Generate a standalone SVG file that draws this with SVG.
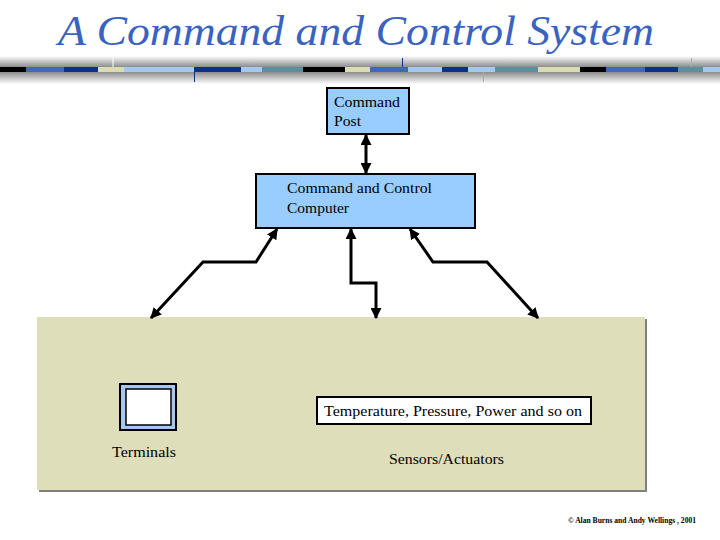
<svg xmlns="http://www.w3.org/2000/svg" width="720" height="540" viewBox="0 0 720 540">
<style>
.t{font-family:"Liberation Serif",Tinos,"Times New Roman",Times,"Nimbus Roman","Nimbus Roman No9 L",FreeSerif,"Noto Serif","DejaVu Serif",serif;font-size:15.5px;fill:#000}
.ttl{font-family:"Liberation Serif",Tinos,"Times New Roman",Times,"Nimbus Roman","Nimbus Roman No9 L",FreeSerif,"Noto Serif","DejaVu Serif",serif;font-style:italic;font-size:42px;fill:#3A62C0}
.ft{font-family:"Liberation Serif",Tinos,"Times New Roman",Times,"Nimbus Roman","Nimbus Roman No9 L",FreeSerif,"Noto Serif","DejaVu Serif",serif;font-size:9px;font-weight:bold;fill:#000}
.box{fill:#99CCFF;stroke:#000;stroke-width:2}
.conn{fill:none;stroke:#000;stroke-width:3;stroke-linejoin:miter}
</style>
<defs>
<linearGradient id="gTop" x1="0" y1="0" x2="0" y2="1">
<stop offset="0" stop-color="#fff"/><stop offset="1" stop-color="#8c8c8c"/>
</linearGradient>
<linearGradient id="gBot" x1="0" y1="0" x2="0" y2="1">
<stop offset="0" stop-color="#8c8c8c"/><stop offset="1" stop-color="#fff"/>
</linearGradient>
<marker id="ah" viewBox="0 0 10 10" refX="9" refY="5" markerWidth="11" markerHeight="11" markerUnits="userSpaceOnUse" orient="auto-start-reverse">
<path d="M0,0 L10,5 L0,10 z" fill="#000"/>
</marker>
</defs>
<rect width="720" height="540" fill="#fff"/>
<text class="ttl" x="58" y="45" textLength="596" lengthAdjust="spacingAndGlyphs">A Command and Control System</text>
<g id="band">
<rect x="0" y="56" width="720" height="11" fill="url(#gTop)"/>
<rect x="0" y="72" width="720" height="12" fill="url(#gBot)"/>
<rect x="0" y="67" width="26" height="5" fill="#000"/>
<rect x="26" y="67" width="38" height="5" fill="#3F67C0"/>
<rect x="64" y="67" width="34" height="5" fill="#0B2F8C"/>
<rect x="98" y="67" width="26" height="5" fill="#DCDCB4"/>
<rect x="124" y="67" width="70" height="5" fill="#A4C8F0"/>
<rect x="194" y="67" width="47" height="5" fill="#0B2F8C"/>
<rect x="241" y="67" width="21" height="5" fill="#A4C8F0"/>
<rect x="262" y="67" width="41" height="5" fill="#5A8FA0"/>
<rect x="303" y="67" width="42" height="5" fill="#000"/>
<rect x="345" y="67" width="25" height="5" fill="#DCDCB4"/>
<rect x="370" y="67" width="38" height="5" fill="#3F67C0"/>
<rect x="408" y="67" width="34" height="5" fill="#A4C8F0"/>
<rect x="442" y="67" width="26" height="5" fill="#0B2F8C"/>
<rect x="468" y="67" width="27" height="5" fill="#A4C8F0"/>
<rect x="495" y="67" width="43" height="5" fill="#5A8FA0"/>
<rect x="538" y="67" width="42" height="5" fill="#DCDCB4"/>
<rect x="580" y="67" width="26" height="5" fill="#000"/>
<rect x="606" y="67" width="39" height="5" fill="#3F67C0"/>
<rect x="645" y="67" width="33" height="5" fill="#0B2F8C"/>
<rect x="678" y="67" width="25" height="5" fill="#5A8FA0"/>
<rect x="703" y="67" width="17" height="5" fill="#A4C8F0"/>
<line x1="113" y1="55" x2="113" y2="67" stroke="#fff" stroke-width="1"/>
<line x1="194.5" y1="72" x2="194.5" y2="82" stroke="#0B2F8C" stroke-width="1"/>
<line x1="402.5" y1="58" x2="402.5" y2="67" stroke="#0B2F8C" stroke-width="1"/>
<line x1="483.5" y1="72" x2="483.5" y2="82" stroke="#aaa" stroke-width="1"/>
<line x1="691.5" y1="58" x2="691.5" y2="67" stroke="#aaa" stroke-width="1"/>
</g>
<g id="field">
<rect x="39" y="319" width="608" height="173" fill="#808080"/>
<rect x="37" y="317" width="608" height="173" fill="#DEDEBA"/>
</g>
<g id="command-post">
<rect class="box" x="327" y="88" width="82" height="46"/>
<text class="t" x="334" y="107" textLength="66" lengthAdjust="spacingAndGlyphs">Command</text>
<text class="t" x="334" y="126" textLength="27" lengthAdjust="spacingAndGlyphs">Post</text>
</g>
<g id="cc-computer">
<rect class="box" x="256" y="174" width="219" height="54"/>
<text class="t" x="287" y="193" textLength="145" lengthAdjust="spacingAndGlyphs">Command and Control</text>
<text class="t" x="287" y="213" textLength="62" lengthAdjust="spacingAndGlyphs">Computer</text>
</g>
<g id="terminals">
<rect x="120" y="384" width="56" height="46" fill="#A6C8F0" stroke="#000" stroke-width="2"/>
<rect x="126" y="389" width="45" height="36" fill="#fff" stroke="#000" stroke-width="1.5"/>
<text class="t" x="112" y="457" textLength="64" lengthAdjust="spacingAndGlyphs">Terminals</text>
</g>
<g id="sensors">
<rect x="317" y="397" width="274" height="27" fill="#fff" stroke="#000" stroke-width="2"/>
<text class="t" x="324" y="416" textLength="258" lengthAdjust="spacingAndGlyphs">Temperature, Pressure, Power and so on</text>
<text class="t" x="389" y="464" textLength="115" lengthAdjust="spacingAndGlyphs">Sensors/Actuators</text>
</g>
<g id="connectors">
<path class="conn" d="M366,135 L366,173" stroke-width="4" marker-start="url(#ah)" marker-end="url(#ah)"/>
<path class="conn" d="M277,229 L256,262 L203,262 L151,318" marker-start="url(#ah)" marker-end="url(#ah)"/>
<path class="conn" d="M351,229 L351,283 L376,283 L376,318" marker-start="url(#ah)" marker-end="url(#ah)"/>
<path class="conn" d="M410,229 L433,262 L487,262 L538,318" marker-start="url(#ah)" marker-end="url(#ah)"/>
</g>
<text class="ft" x="568" y="523" textLength="128" lengthAdjust="spacingAndGlyphs">© Alan Burns and Andy Wellings , 2001</text>
</svg>
